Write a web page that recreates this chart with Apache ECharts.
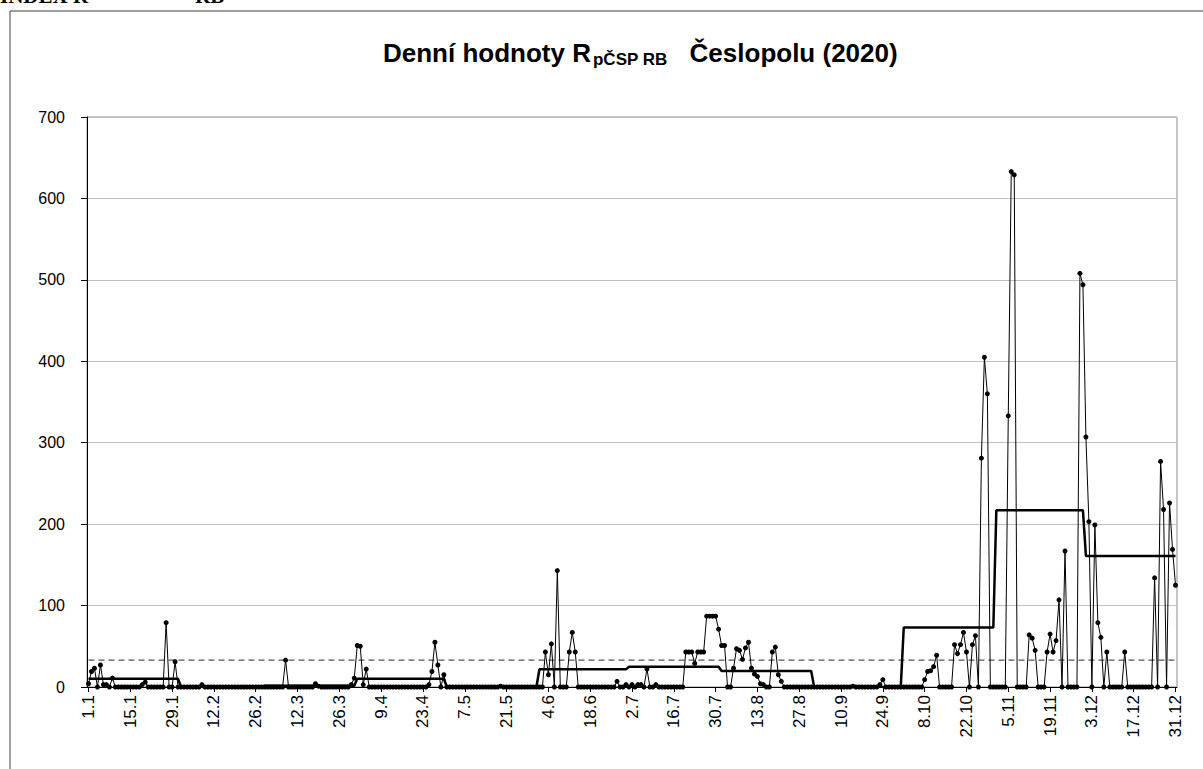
<!DOCTYPE html>
<html><head><meta charset="utf-8">
<script src="https://cdn.jsdelivr.net/npm/echarts@6/dist/echarts.min.js"></script>
<style>html,body{margin:0;padding:0;background:#fff;overflow:hidden}#c{width:1203px;height:769px}</style>
</head><body><div id="c"></div>
<script>
const tickLabels = ['1.1','15.1','29.1','12.2','26.2','12.3','26.3','9.4','23.4','7.5','21.5','4.6','18.6','2.7','16.7','30.7','13.8','27.8','10.9','24.9','8.10','22.10','5.11','19.11','3.12','17.12','31.12'];

const jan = [4,19,23,0,27,3,3,0,11,0, 0,0,0,0,0,0,0,0,3,6, 0,0,0,0,0,0,79,0,0,31, 0];
const feb = [0,0,0,0,0,0,0,3,0,0, 0,0,0,0,0,0,0,0,0,0, 0,0,0,0,0,0,0,0];
const mar = [0,0,0,0,0,0,0,33,0,0, 0,0,0,0,0,0,0,4,1,0, 0,0,0,0,0,0,0,0,0,3, 11];
const apr = [51,50,3,22,0,0,0,0,0,0, 0,0,0,0,0,0,0,0,0,0, 0,0,0,0,3,19,55,27,0,15];
const may = [0,0,0,0,0,0,0,0,0,0, 0,0,0,0,0,0,0,0,1,0, 0,0,0,0,0,0,0,0,0,0, 0];
const jun = [0,0,43,15,53,0,143,0,0,0, 43,67,43,0,0,0,0,0,0,0, 0,0,0,0,0,0,7,0,0,3];
const jul = [0,3,0,3,3,0,22,0,0,3, 0,0,0,0,0,0,0,0,0,43, 43,43,29,43,43,43,87,87,87,87, 71];
const aug = [51,51,0,0,23,47,45,34,48,55, 23,16,13,4,3,0,0,43,49,15, 7,0,0,0,0,0,0,0,0,0, 0];
const sep = [0,0,0,0,0,0,0,0,0,0, 0,0,0,1,0,0,0,0,0,0, 0,0,3,9,0,0,0,0,0,0];
const oct = [0,0,0,0,0,0,0,9,19,20, 25,39,0,0,0,0,0,52,41,52, 67,43,0,52,63,0,281,405,360,0, 0];
const nov = [0,0,0,0,333,633,629,0,0,0, 0,64,60,45,0,0,0,43,65,43, 57,107,0,167,0,0,0,0,508,494];
const dec = [307,203,0,199,79,61,0,43,0,0, 0,0,0,43,0,0,0,0,0,0, 0,0,0,134,0,277,218,0,226,169, 125];

const monthLevels = [10,0,1.5,10,0,21.7,24.8,19.6,0,73,217,161];
const thresholdValue = 33;

const months = [jan,feb,mar,apr,may,jun,jul,aug,sep,oct,nov,dec];
const daily = [];
const stepData = [];
months.forEach((m, k) => { m.forEach(v => { daily.push(v); stepData.push(monthLevels[k]); }); });
const thresholdData = daily.map(() => thresholdValue);
const categories = daily.map((_, i) => (i % 14 === 0 && tickLabels[i / 14] !== undefined) ? tickLabels[i / 14] : '');

const chart = echarts.init(document.getElementById('c'), null, {renderer: 'svg'});
const FONT = 'Liberation Sans, Arial, sans-serif';
chart.setOption({
  animation: false,
  backgroundColor: '#fff',
  textStyle: {fontFamily: FONT},
  title: {
    text: '{a|Denní hodnoty R}{b|pČSP RB}{c|Česlopolu (2020)}',
    left: 378, top: 33,
    textStyle: {
      rich: {
        a: {fontSize: 26, fontWeight: 'bold', color: '#000', fontFamily: FONT, lineHeight: 30},
        b: {fontSize: 17, fontWeight: 'bold', color: '#000', fontFamily: FONT, lineHeight: 14, verticalAlign: 'bottom', padding: [0, 0, 0, 2]},
        c: {fontSize: 26, fontWeight: 'bold', color: '#000', fontFamily: FONT, lineHeight: 30, padding: [0, 0, 0, 22]}
      }
    }
  },
  graphic: [
    {type: 'rect', shape: {x: 10, y: 11, width: 1250, height: 800}, style: {fill: 'none', stroke: '#404040', lineWidth: 1}, silent: true},
    {type: 'text', left: 0, top: -15, style: {text: 'INDEX R', font: 'bold 21px Liberation Serif', fill: '#000'}},
    {type: 'text', left: 195, top: -15, style: {text: 'RB', font: 'bold 21px Liberation Serif', fill: '#000'}}
  ],
  grid: {left: 87, top: 117, right: 26, bottom: 82, show: true, borderColor: '#8c8c8c', borderWidth: 1, backgroundColor: 'transparent'},
  xAxis: {
    type: 'category', data: categories, boundaryGap: true,
    axisLine: {lineStyle: {color: '#000', width: 1}},
    axisTick: {show: true, interval: 13, alignWithLabel: true, length: 5, lineStyle: {color: '#000'}},
    axisLabel: {interval: 13, rotate: 90, fontSize: 17, color: '#000', fontFamily: FONT, margin: 8},
    splitLine: {show: false}
  },
  yAxis: {
    type: 'value', min: 0, max: 700, interval: 100,
    axisLine: {show: true, lineStyle: {color: '#000', width: 1}},
    axisTick: {show: true, length: 6, lineStyle: {color: '#000'}},
    axisLabel: {fontSize: 16, color: '#000', fontFamily: FONT, margin: 22},
    splitLine: {lineStyle: {color: '#c0c0c0', width: 1}}
  },
  series: [
    {name: 'limit', type: 'line', data: thresholdData, symbol: 'none', silent: true,
     lineStyle: {color: '#555', width: 1.3, type: [6, 4]}},
    {name: 'step', type: 'line', data: stepData, symbol: 'none', silent: true,
     lineStyle: {color: '#000', width: 2.5}},
    {name: 'daily', type: 'line', data: daily, symbol: 'circle', symbolSize: 5, showAllSymbol: true,
     itemStyle: {color: '#000'}, lineStyle: {color: '#000', width: 1}}
  ]
});
</script></body></html>
